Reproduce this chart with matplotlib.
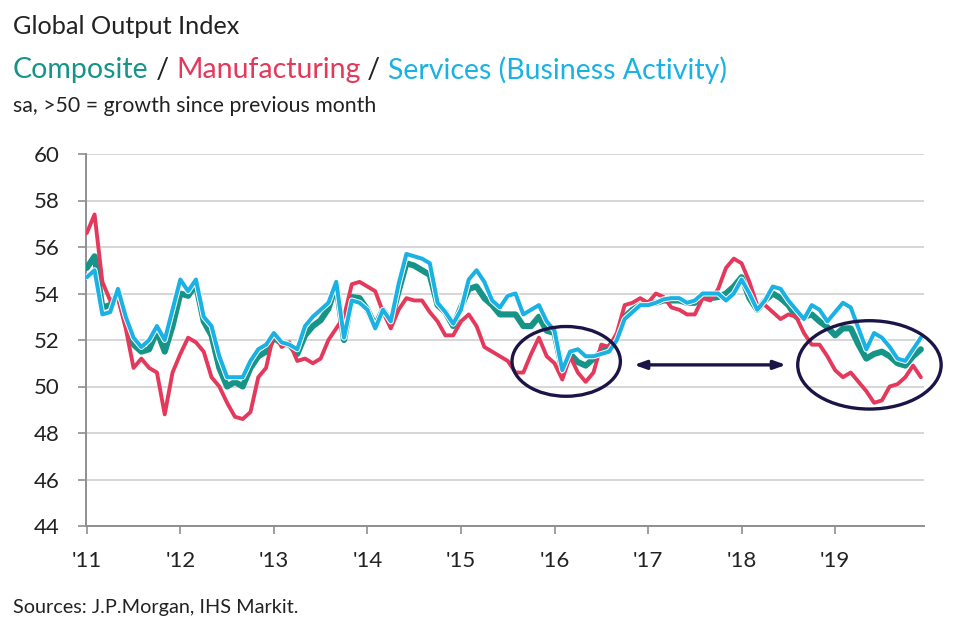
import numpy as np
import matplotlib
matplotlib.use("Agg")
import matplotlib.pyplot as plt
from matplotlib.patches import Ellipse
import matplotlib.patheffects as pe

# --------------------------------
# Datos (valores mensuales, ene 2011 - dic 2019)
# --------------------------------
manufacturing = [
    56.6, 57.4, 54.5, 53.7, 53.8, 52.5, 50.8, 51.2, 50.8, 50.6, 48.8, 50.6,   # 2011
    51.4, 52.1, 51.9, 51.5, 50.4, 50.0, 49.3, 48.7, 48.6, 48.9, 50.4, 50.8,   # 2012
    52.3, 51.7, 51.9, 51.1, 51.2, 51.0, 51.2, 52.0, 52.5, 53.0, 54.4, 54.5,   # 2013
    54.3, 54.1, 53.2, 52.5, 53.3, 53.8, 53.7, 53.7, 53.2, 52.8, 52.2, 52.2,   # 2014
    52.8, 53.1, 52.6, 51.7, 51.5, 51.3, 51.1, 50.6, 50.6, 51.4, 52.1, 51.3,   # 2015
    51.0, 50.3, 51.3, 50.6, 50.2, 50.6, 51.8, 51.7, 52.3, 53.5, 53.6, 53.8,   # 2016
    53.6, 54.0, 53.85, 53.4, 53.3, 53.1, 53.1, 53.8, 53.7, 54.2, 55.1, 55.5,  # 2017
    55.3, 54.5, 53.5, 53.5, 53.2, 52.9, 53.1, 53.0, 52.3, 51.8, 51.8, 51.3,   # 2018
    50.7, 50.4, 50.6, 50.2, 49.8, 49.3, 49.4, 50.0, 50.1, 50.4, 50.9, 50.4,   # 2019
]
composite = [
    55.1, 55.6, 53.4, 53.5, 54.0, 52.8, 51.8, 51.5, 51.6, 52.4, 51.5, 52.6,   # 2011
    54.0, 53.9, 54.4, 52.8, 52.2, 50.8, 50.0, 50.2, 50.0, 50.8, 51.3, 51.5,   # 2012
    52.1, 51.85, 51.8, 51.4, 52.2, 52.6, 52.85, 53.35, 54.4, 52.0, 53.85, 53.8,  # 2013
    53.3, 52.6, 53.3, 52.8, 54.1, 55.3, 55.2, 55.0, 54.8, 53.5, 53.2, 52.6,   # 2014
    53.4, 54.2, 54.3, 53.8, 53.5, 53.1, 53.1, 53.1, 52.6, 52.6, 53.0, 52.4,   # 2015
    52.3, 50.7, 51.4, 51.05, 50.9, 51.2, 51.5, 51.7, 52.1, 53.0, 53.3, 53.5,  # 2016
    53.6, 53.6, 53.7, 53.7, 53.7, 53.6, 53.6, 53.9, 53.8, 53.85, 54.0, 54.3,  # 2017
    54.7, 53.8, 53.3, 53.7, 54.0, 53.8, 53.5, 53.0, 53.0, 53.1, 52.8, 52.55,  # 2018
    52.2, 52.5, 52.5, 51.8, 51.2, 51.4, 51.5, 51.3, 51.0, 50.9, 51.3, 51.6,   # 2019
]
services = [
    54.7, 55.0, 53.1, 53.2, 54.2, 53.0, 52.1, 51.7, 52.0, 52.6, 52.0, 53.3,   # 2011
    54.6, 54.1, 54.6, 53.0, 52.6, 51.3, 50.4, 50.4, 50.4, 51.1, 51.6, 51.8,   # 2012
    52.3, 51.9, 51.8, 51.6, 52.6, 53.0, 53.3, 53.6, 54.5, 52.1, 53.7, 53.6,   # 2013
    53.3, 52.5, 53.3, 52.8, 54.4, 55.7, 55.6, 55.5, 55.3, 53.6, 53.2, 52.7,   # 2014
    53.3, 54.6, 55.0, 54.5, 53.7, 53.4, 53.9, 54.0, 53.1, 53.3, 53.5, 52.8,   # 2015
    52.4, 50.7, 51.5, 51.6, 51.3, 51.3, 51.4, 51.5, 52.0, 52.9, 53.2, 53.5,   # 2016
    53.5, 53.6, 53.75, 53.8, 53.8, 53.6, 53.7, 54.0, 54.0, 54.0, 53.7, 54.0,  # 2017
    54.6, 54.0, 53.3, 53.7, 54.3, 54.2, 53.7, 53.3, 52.9, 53.5, 53.3, 52.8,   # 2018
    53.2, 53.6, 53.4, 52.5, 51.6, 52.3, 52.1, 51.7, 51.2, 51.1, 51.6, 52.1,   # 2019
]
year_labels = ["'11", "'12", "'13", "'14", "'15", "'16", "'17", "'18", "'19"]
y_ticks = [44, 46, 48, 50, 52, 54, 56, 58, 60]

# --------------------------------
# Colores y estilo
# --------------------------------
C_COMP = "#169488"
C_MANU = "#e5395c"
C_SERV = "#1ab2e4"
C_NAVY = "#1b1547"
C_TEXT = "#222222"
FONT = "Lato"

plt.rcParams["font.family"] = [FONT, "DejaVu Sans"]

fig = plt.figure(figsize=(9.67, 6.28), dpi=100)
ax = fig.add_axes([86 / 967, 1 - 526 / 628, (924 - 86) / 967, (526 - 154) / 628])

months = np.arange(len(composite))

ax.plot(months, composite, color=C_COMP, lw=4.4, solid_joinstyle="round",
        solid_capstyle="round", zorder=3)
ax.plot(months, manufacturing, color=C_MANU, lw=2.8, solid_joinstyle="round",
        solid_capstyle="round", zorder=4)
ax.plot(months, services, color=C_SERV, lw=2.9, solid_joinstyle="round",
        solid_capstyle="round", zorder=5,
        path_effects=[pe.Stroke(linewidth=4.3, foreground="white"), pe.Normal()])

# ejes y rejilla
ax.set_xlim(-0.1, 107.4)
ax.set_ylim(44, 60)
ax.set_yticks(y_ticks)
ax.set_xticks(np.arange(0, 12 * len(year_labels), 12))
ax.set_xticklabels(year_labels)
ax.grid(axis="y", color="#d6d6d6", lw=1.4, zorder=0)
ax.set_axisbelow(True)
for s in ["top", "right"]:
    ax.spines[s].set_visible(False)
for s in ["left", "bottom"]:
    ax.spines[s].set_color("#8f8f8f")
    ax.spines[s].set_linewidth(1.4)
ax.tick_params(axis="y", length=6, width=1.2, color="#8f8f8f", labelsize=16,
               labelcolor=C_TEXT, pad=13)
ax.tick_params(axis="x", length=6, width=1.2, color="#8f8f8f", labelsize=16,
               labelcolor=C_TEXT, pad=12)

# anotaciones: elipses y flecha
e1 = Ellipse((61.5, 51.08), 13.9, 3.0, fill=False, edgecolor=C_NAVY, lw=2.4,
             clip_on=False, zorder=6)
e2 = Ellipse((100.4, 50.93), 18.4, 3.8, fill=False, edgecolor=C_NAVY, lw=2.4,
             clip_on=False, zorder=6)
ax.add_patch(e1)
ax.add_patch(e2)
ax.annotate("", xy=(89.7, 50.93), xytext=(70.2, 50.93),
            arrowprops=dict(arrowstyle="<|-|>,head_length=0.7,head_width=0.25",
                            color=C_NAVY, lw=2.4, shrinkA=0, shrinkB=0))

# --------------------------------
# Textos
# --------------------------------
fig.text(13 / 967, 1 - 26 / 628, "Global Output Index", fontsize=18.2,
         color=C_TEXT, va="center", ha="left")

renderer = fig.canvas.get_renderer()
x0 = 13 / 967
y_sub = 1 - 70 / 628
pieces = [("Composite", C_COMP), (" / ", C_TEXT), ("Manufacturing", C_MANU),
          (" / ", C_TEXT), ("Services (Business Activity)", C_SERV)]
for txt, col in pieces:
    t = fig.text(x0, y_sub, txt, fontsize=20.5, color=col, va="center", ha="left")
    bb = t.get_window_extent(renderer=renderer)
    x0 += bb.width / fig.bbox.width

fig.text(13 / 967, 1 - 106 / 628, "sa, >50 = growth since previous month",
         fontsize=15.3, color=C_TEXT, va="center", ha="left")
fig.text(13 / 967, 1 - 607 / 628, "Sources: J.P.Morgan, IHS Markit.",
         fontsize=14.3, color=C_TEXT, va="center", ha="left")

fig.savefig("out.png", dpi=100)
